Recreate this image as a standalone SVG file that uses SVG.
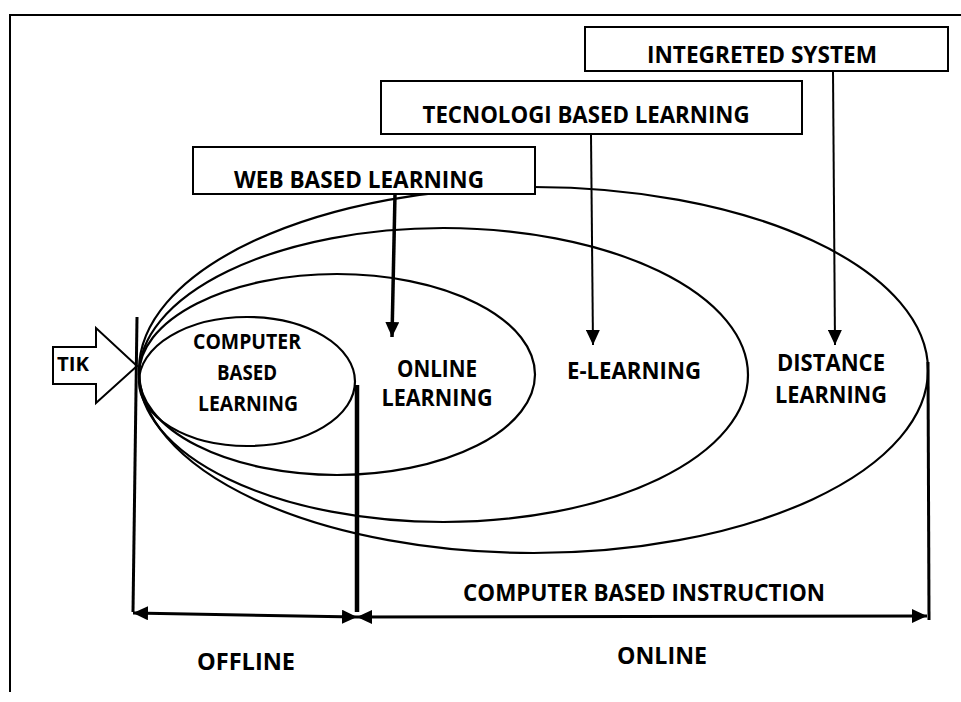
<svg xmlns="http://www.w3.org/2000/svg" width="961" height="702" viewBox="0 0 961 702">
<style>
  text { font-family: "Open Sans", "Liberation Sans", sans-serif; font-weight: 700; fill: #000; text-anchor: middle; }
  .box { fill: #fff; stroke: #000; stroke-width: 2; }
  .ell { fill: none; stroke: #000; stroke-width: 2.2; }
  .ln { stroke: #000; fill: none; }
</style>
<defs>
  <marker id="ah" markerUnits="userSpaceOnUse" markerWidth="16" markerHeight="14" refX="15" refY="7" orient="auto-start-reverse">
    <path d="M0,0 L15,7 L0,14 z" fill="#000"/>
  </marker>
</defs>
<rect x="0" y="0" width="961" height="702" fill="#fff"/>
<path class="ln" stroke-width="2" d="M10,692 L10,15 L961,15"/>

<g id="ellipses">
  <ellipse id="e-distance" class="ell" cx="533.5" cy="370" rx="394.5" ry="183"/>
  <ellipse id="e-elearning" class="ell" cx="443.5" cy="375" rx="304.5" ry="147"/>
  <ellipse id="e-online" class="ell" cx="337" cy="374.5" rx="198" ry="100.5"/>
  <ellipse id="e-computer" class="ell" cx="247" cy="381.5" rx="108" ry="64.5"/>
</g>

<g id="integrated">
  <rect class="box" x="585" y="27" width="363" height="44"/>
  <text x="762" y="63" font-size="23.5" textLength="230" lengthAdjust="spacingAndGlyphs">INTEGRETED SYSTEM</text>
</g>
<g id="tecnologi">
  <rect class="box" x="381" y="81" width="421" height="53" stroke-width="3.5"/>
  <text x="586" y="123" font-size="23.5" textLength="327" lengthAdjust="spacingAndGlyphs">TECNOLOGI BASED LEARNING</text>
</g>
<g id="web">
  <rect class="box" x="193" y="147" width="342" height="47"/>
  <text x="359" y="188" font-size="23.5" textLength="250" lengthAdjust="spacingAndGlyphs">WEB BASED LEARNING</text>
</g>

<g id="tik">
  <polygon points="53,347 96,347 96,328 137,366 96,403 96,384 53,384" fill="#fff" stroke="#000" stroke-width="2"/>
  <text x="73" y="371" font-size="20" textLength="32" lengthAdjust="spacingAndGlyphs">TIK</text>
</g>

<g id="computer-based">
  <text x="247" y="349" font-size="21.5" textLength="108" lengthAdjust="spacingAndGlyphs">COMPUTER</text>
  <text x="247" y="380" font-size="21.5" textLength="60" lengthAdjust="spacingAndGlyphs">BASED</text>
  <text x="248" y="411" font-size="21.5" textLength="100" lengthAdjust="spacingAndGlyphs">LEARNING</text>
</g>
<g id="online-learning">
  <text x="437" y="377" font-size="22.5" textLength="80" lengthAdjust="spacingAndGlyphs">ONLINE</text>
  <text x="437" y="406" font-size="22.5" textLength="111" lengthAdjust="spacingAndGlyphs">LEARNING</text>
</g>
<g id="e-learning">
  <text x="634" y="379" font-size="22.5" textLength="134" lengthAdjust="spacingAndGlyphs">E-LEARNING</text>
</g>
<g id="distance-learning">
  <text x="831" y="371" font-size="22.5" textLength="108" lengthAdjust="spacingAndGlyphs">DISTANCE</text>
  <text x="831" y="403" font-size="22.5" textLength="112" lengthAdjust="spacingAndGlyphs">LEARNING</text>
</g>

<g id="labels">
  <text x="644" y="601" font-size="22.5" textLength="362" lengthAdjust="spacingAndGlyphs">COMPUTER BASED INSTRUCTION</text>
  <text x="246" y="670" font-size="23.5" textLength="98" lengthAdjust="spacingAndGlyphs">OFFLINE</text>
  <text x="662" y="664" font-size="23.5" textLength="90" lengthAdjust="spacingAndGlyphs">ONLINE</text>
</g>

<g id="connectors">
  <line class="ln" stroke-width="3.5" x1="395" y1="194" x2="392" y2="337" marker-end="url(#ah)"/>
  <line class="ln" stroke-width="2" x1="591" y1="135" x2="593" y2="345" marker-end="url(#ah)"/>
  <line class="ln" stroke-width="2" x1="833" y1="71" x2="835" y2="345" marker-end="url(#ah)"/>
  <line class="ln" stroke-width="3" x1="137" y1="317" x2="133" y2="612"/>
  <line class="ln" stroke-width="4.5" x1="357" y1="385" x2="357" y2="612"/>
  <line class="ln" stroke-width="3" x1="928" y1="362" x2="929" y2="620"/>
  <line class="ln" stroke-width="3" x1="133" y1="613" x2="357" y2="617" marker-start="url(#ah)" marker-end="url(#ah)"/>
  <line class="ln" stroke-width="3" x1="357" y1="617" x2="927" y2="616" marker-start="url(#ah)" marker-end="url(#ah)"/>
</g>
</svg>
